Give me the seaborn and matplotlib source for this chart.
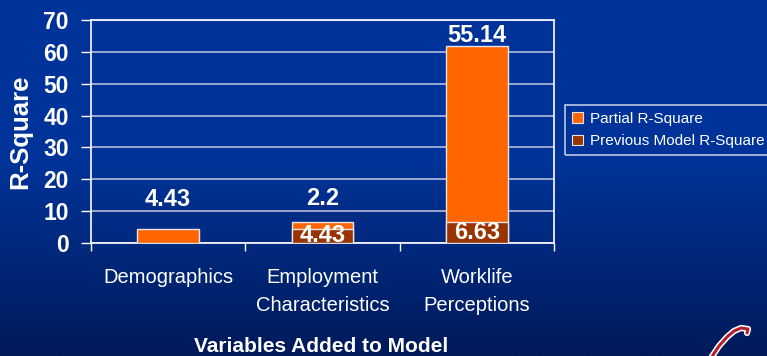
import numpy as np
import pandas as pd
import matplotlib
matplotlib.use("Agg")
import matplotlib.pyplot as plt
import seaborn as sns
from matplotlib.patches import Patch
from matplotlib.lines import Line2D
from matplotlib.colors import LinearSegmentedColormap
import matplotlib.patheffects as pe

# ---- data ----
categories = ["Demographics", "Employment\nCharacteristics", "Worklife\nPerceptions"]
previous_r2 = [0.0, 4.43, 6.63]
partial_r2 = [4.43, 2.2, 55.14]
y_ticks = [0, 10, 20, 30, 40, 50, 60, 70]
series_names = ["Partial R-Square", "Previous Model R-Square"]

# ---- style ----
ORANGE = "#FF6600"
BROWN = "#993300"
EDGE = "#e4e4ee"
GRID = "#c4c9de"

sns.set_theme(style="white")
plt.rcParams["font.family"] = ["Liberation Sans", "DejaVu Sans"]

fig = plt.figure(figsize=(7.67, 3.56), dpi=100)

# slide-style blue gradient background
bg = fig.add_axes([0, 0, 1, 1], zorder=-10)
bg_cmap = LinearSegmentedColormap.from_list(
    "slide",
    [(0.0, "#001a5a"), (0.3, "#00287c"), (0.55, "#003399"), (1.0, "#003399")],
)
grad = np.linspace(0, 1, 256).reshape(-1, 1)
bg.imshow(grad, aspect="auto", extent=[0, 1, 0, 1], origin="lower", cmap=bg_cmap)
bg.axis("off")

ax = fig.add_axes([91 / 767, 1 - 243 / 356, 463 / 767, 223 / 356])
ax.set_facecolor("none")

df = pd.DataFrame({
    "category": categories,
    "previous": previous_r2,
    "partial": partial_r2,
})
df["total"] = df["previous"] + df["partial"]

# stacked bars: full height in orange, previous-model part in brown over it
sns.barplot(data=df, x="category", y="total", color=ORANGE, saturation=1,
            width=0.4, edgecolor=EDGE, linewidth=1, ax=ax, zorder=3)
sns.barplot(data=df[df["previous"] > 0], x="category", y="previous",
            order=categories, color=BROWN, saturation=1,
            width=0.4, edgecolor=EDGE, linewidth=1, ax=ax, zorder=4)

# value labels
label_style = dict(color="white", fontsize=17, fontweight="bold",
                   ha="center", zorder=6)
partial_offsets = [21, 17, 8]
for i, (prev, part) in enumerate(zip(previous_r2, partial_r2)):
    ax.annotate(f"{part:g}", xy=(i, prev + part), xytext=(0, partial_offsets[i]),
                textcoords="offset points", va="center", **label_style)
    if prev > 0:
        ax.text(i, prev / 2, f"{prev:g}", va="center", **label_style)

# axes
ax.set_xlim(-0.5, 2.5)
ax.set_ylim(0, 70)
ax.set_yticks(y_ticks)
ax.yaxis.grid(True, color=GRID, linewidth=1.1)
ax.set_axisbelow(True)
for side in ["left", "right", "top", "bottom"]:
    ax.spines[side].set_visible(True)
    ax.spines[side].set_color("white")
    ax.spines[side].set_linewidth(1.2)

ax.tick_params(axis="y", which="major", direction="out", length=7, width=1,
               color="white", pad=9, labelsize=16.5, labelcolor="white", left=True)
for lbl in ax.get_yticklabels():
    lbl.set_fontweight("bold")

ax.set_xticks(range(len(categories)))
ax.set_xticklabels(categories, linespacing=1.6)
ax.set_xticks([-0.5, 0.5, 1.5, 2.5], minor=True)
ax.tick_params(axis="x", which="major", length=0, pad=18,
               labelsize=14.5, labelcolor="white")
ax.tick_params(axis="x", which="minor", direction="out", length=6, width=1,
               color="white", bottom=True)

ax.set_xlabel("")
ax.set_ylabel("R-Square", fontsize=18.5, fontweight="bold", color="white", labelpad=8)
fig.text(321 / 767, 1 - 346 / 356, "Variables Added to Model", ha="center",
         va="center", fontsize=15, fontweight="bold", color="white")

# legend
handles = [Patch(facecolor=ORANGE, edgecolor=EDGE, linewidth=0.8),
           Patch(facecolor=BROWN, edgecolor=EDGE, linewidth=0.8)]
leg = fig.legend(handles, series_names, loc="upper left",
                 bbox_to_anchor=(565 / 767, 1 - 105 / 356), frameon=True,
                 fancybox=False, facecolor="none", edgecolor="white",
                 fontsize=11, labelcolor="white", handlelength=0.7,
                 handleheight=0.7, handletextpad=0.5, borderpad=0.45,
                 labelspacing=0.55, borderaxespad=0)
leg.get_frame().set_linewidth(1.1)

# corner emblem stroke
logo_x = np.array([711, 719, 727, 734, 741, 748, 747]) / 767
logo_y = 1 - np.array([358, 346, 337, 331, 328, 329, 333]) / 356
fig.add_artist(Line2D(logo_x, logo_y, transform=fig.transFigure, color="#b3202e",
                      linewidth=2.2, solid_capstyle="round",
                      path_effects=[pe.Stroke(linewidth=4.5, foreground="white"),
                                    pe.Normal()]))

fig.savefig("out.png", dpi=100)
